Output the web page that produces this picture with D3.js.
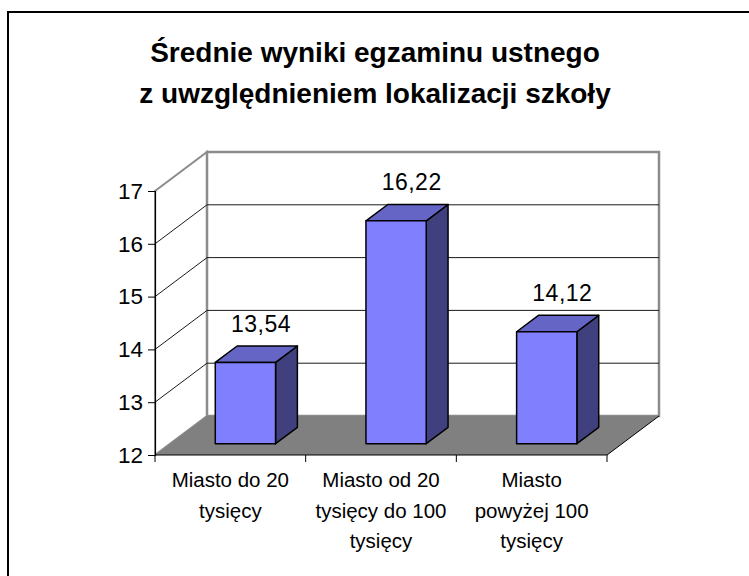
<!DOCTYPE html>
<html>
<head>
<meta charset="utf-8">
<script src="https://cdn.jsdelivr.net/npm/d3@7"></script>
<style>
  body { margin: 0; background: #fff; }
  text { font-family: "Liberation Sans", Arial, sans-serif; }
</style>
</head>
<body>
<div id="vis-container"></div>
<script>
// Chart data
const categories = ["Miasto do 20 tysięcy", "Miasto od 20 tysięcy do 100 tysięcy", "Miasto powyżej 100 tysięcy"];
const categoryLines = [["Miasto do 20", "tysięcy"], ["Miasto od 20", "tysięcy do 100", "tysięcy"], ["Miasto", "powyżej 100", "tysięcy"]];
const values = [13.54, 16.22, 14.12];
const yTicks = [12, 13, 14, 15, 16, 17];
const titleLines = ["Średnie wyniki egzaminu ustnego", "z uwzględnieniem lokalizacji szkoły"];

const width = 749;
const height = 576;

// depth offset of the 3D box (back wall vs front plane)
const DX = 52, DY = -39;

const svg = d3.select("#vis-container")
  .append("svg")
  .attr("width", width)
  .attr("height", height);

// chart frame (right/bottom edges run off the picture)
svg.append("rect")
  .attr("x", 8).attr("y", 12)
  .attr("width", 770).attr("height", 600)
  .attr("fill", "#fff")
  .attr("stroke", "#000")
  .attr("stroke-width", 2);

// Title
svg.append("g").selectAll("text")
  .data(titleLines)
  .enter()
  .append("text")
  .attr("x", 375)
  .attr("y", (d, i) => 62 + i * 41)
  .attr("text-anchor", "middle")
  .attr("font-size", "28px")
  .attr("font-weight", "bold")
  .text(d => d);

// Scales (front plane)
const xScale = d3.scaleBand()
  .domain(categories)
  .range([155, 607]);

const yScale = d3.scaleLinear()
  .domain([12, 17])
  .range([455, 191]);

// project a front plane point back by depth d (0..1)
const pt = (x, v, d) => [x + DX * d, yScale(v) + DY * d];
const poly = (pts) => pts.map(p => p.join(",")).join(" ");

const x0 = xScale.range()[0], x1 = xScale.range()[1];
const vMin = yScale.domain()[0], vMax = yScale.domain()[1];

// side wall
svg.append("polygon")
  .attr("points", poly([pt(x0, vMin, 0), pt(x0, vMax, 0), pt(x0, vMax, 1), pt(x0, vMin, 1)]))
  .attr("fill", "#fff")
  .attr("stroke", "#8c8c8c")
  .attr("stroke-width", 2);

// back wall
svg.append("polygon")
  .attr("points", poly([pt(x0, vMin, 1), pt(x0, vMax, 1), pt(x1, vMax, 1), pt(x1, vMin, 1)]))
  .attr("fill", "#fff")
  .attr("stroke", "#8c8c8c")
  .attr("stroke-width", 2.5);

// gridlines on both walls
const grid = yTicks.filter(v => v > vMin && v < vMax);
svg.append("g").selectAll("polyline")
  .data(grid)
  .enter()
  .append("polyline")
  .attr("points", v => poly([pt(x0, v, 0), pt(x0, v, 1), pt(x1, v, 1)]))
  .attr("fill", "none")
  .attr("stroke", "#1a1a1a")
  .attr("stroke-width", 1);

// floor
svg.append("polygon")
  .attr("points", poly([pt(x0, vMin, 0), pt(x1, vMin, 0), pt(x1, vMin, 1), pt(x0, vMin, 1)]))
  .attr("fill", "#808080");

svg.append("line")
  .attr("x1", pt(x1, vMin, 0)[0]).attr("y1", pt(x1, vMin, 0)[1])
  .attr("x2", pt(x1, vMin, 1)[0]).attr("y2", pt(x1, vMin, 1)[1])
  .attr("stroke", "#000")
  .attr("stroke-width", 1);

// Y axis
svg.append("g")
  .attr("transform", `translate(${x0},0)`)
  .call(d3.axisLeft(yScale).tickValues(yTicks).tickSize(7).tickPadding(5).tickFormat(d3.format("d")))
  .call(g => g.select(".domain").attr("stroke", "#000").attr("stroke-width", 1.2))
  .call(g => g.selectAll(".tick line").attr("stroke", "#000"))
  .call(g => g.selectAll(".tick text")
    .attr("font-family", "Liberation Sans, Arial, sans-serif")
    .attr("font-size", "22.5px")
    .attr("fill", "#000"));

// X axis with ticks at category boundaries
const xAxis = svg.append("g")
  .attr("transform", `translate(0,${yScale(vMin)})`);
xAxis.append("line")
  .attr("x1", x0).attr("x2", x1)
  .attr("stroke", "#000").attr("stroke-width", 1.2);
xAxis.selectAll(".btick")
  .data(categories.map(c => xScale(c)).concat([x1]))
  .enter()
  .append("line")
  .attr("class", "btick")
  .attr("x1", d => d).attr("x2", d => d)
  .attr("y1", 0).attr("y2", 7)
  .attr("stroke", "#000");

// category labels
const catLabels = svg.append("g").selectAll("text")
  .data(categories)
  .enter()
  .append("text")
  .attr("text-anchor", "middle")
  .attr("font-size", "20.5px")
  .attr("fill", "#000");
catLabels.selectAll("tspan")
  .data((d, i) => categoryLines[i].map(t => ({ t, c: d })))
  .enter()
  .append("tspan")
  .attr("x", d => xScale(d.c) + xScale.bandwidth() / 2)
  .attr("y", (d, i) => 487 + i * 30.5)
  .text(d => d.t);

// Bars (3D columns)
const barW = xScale.bandwidth() * 0.4;
const dFront = 0.29, dBack = 0.71;
const bars = svg.append("g").selectAll("g")
  .data(values)
  .enter()
  .append("g");

const barLeft = (i) => xScale(categories[i]) + (xScale.bandwidth() - barW) / 2;

// right side face
bars.append("polygon")
  .attr("points", (d, i) => poly([
    pt(barLeft(i) + barW, vMin, dFront), pt(barLeft(i) + barW, d, dFront),
    pt(barLeft(i) + barW, d, dBack), pt(barLeft(i) + barW, vMin, dBack)]))
  .attr("fill", "#40407f")
  .attr("stroke", "#000")
  .attr("stroke-width", 1.5)
  .attr("stroke-linejoin", "round");

// top face
bars.append("polygon")
  .attr("points", (d, i) => poly([
    pt(barLeft(i), d, dFront), pt(barLeft(i) + barW, d, dFront),
    pt(barLeft(i) + barW, d, dBack), pt(barLeft(i), d, dBack)]))
  .attr("fill", "#6565c6")
  .attr("stroke", "#000")
  .attr("stroke-width", 1.5)
  .attr("stroke-linejoin", "round");

// front face
bars.append("polygon")
  .attr("points", (d, i) => poly([
    pt(barLeft(i), vMin, dFront), pt(barLeft(i) + barW, vMin, dFront),
    pt(barLeft(i) + barW, d, dFront), pt(barLeft(i), d, dFront)]))
  .attr("fill", "#8080ff")
  .attr("stroke", "#000")
  .attr("stroke-width", 1.5)
  .attr("stroke-linejoin", "round");

// value labels
bars.append("text")
  .attr("x", (d, i) => pt(barLeft(i) + barW / 2, d, 0.59)[0])
  .attr("y", (d, i) => pt(barLeft(i), d, dBack)[1] - 14)
  .attr("text-anchor", "middle")
  .attr("font-size", "23px")
  .attr("letter-spacing", "0.5px")
  .attr("fill", "#000")
  .text(d => d3.format(".2f")(d).replace(".", ","));
</script>
</body>
</html>
